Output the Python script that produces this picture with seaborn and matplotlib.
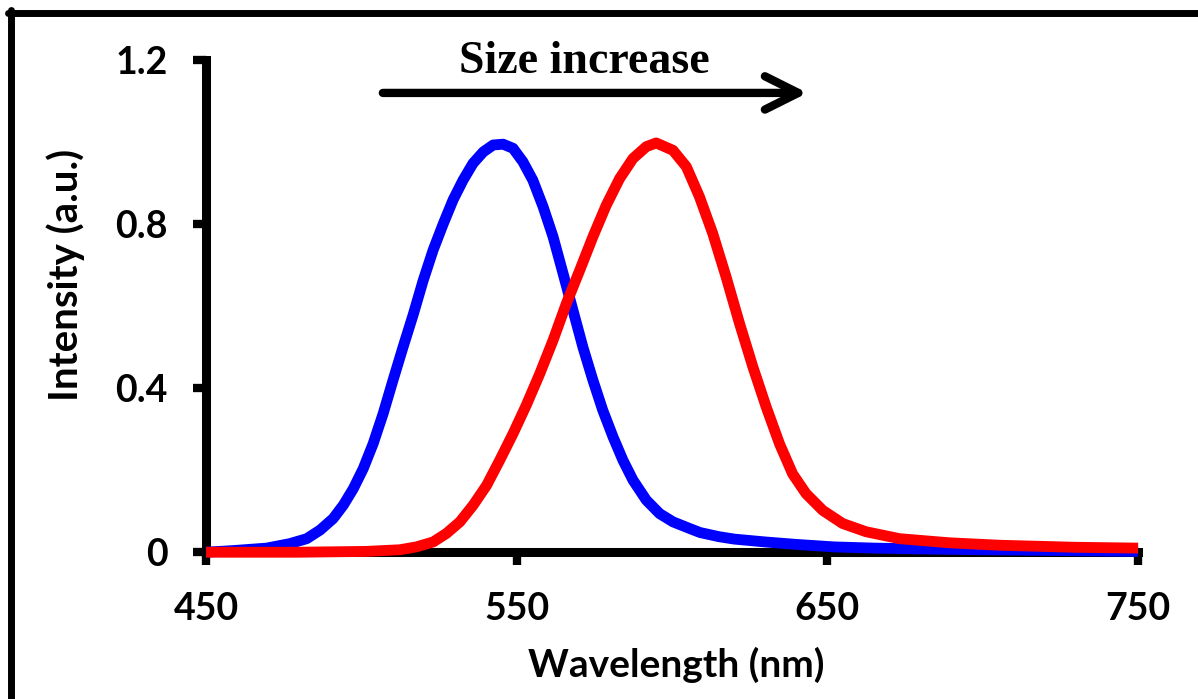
import matplotlib
matplotlib.use('Agg')
import matplotlib.pyplot as plt
from matplotlib.lines import Line2D
import seaborn as sns
import pandas as pd

# emission spectra
blue_nm = [450, 458.8, 469.5, 477, 482.4, 486.7, 490.9, 494.2, 497.4, 500.6, 503.8, 507.0,
           510.2, 513.4, 516.7, 519.9, 523.1, 526.3, 529.5, 532.7, 535.9, 539.2, 542.4,
           545.6, 548.8, 552.0, 555.2, 558.5, 561.7, 564.9, 568.1, 571.3, 574.5, 577.7,
           581.0, 584.2, 587.4, 591.7, 596.0, 600.3, 605.6, 609, 615, 620, 630, 640, 652,
           665, 680, 700, 725, 750]
blue_int = [0.0, 0.004, 0.01, 0.021, 0.033, 0.054, 0.082, 0.115, 0.155, 0.204, 0.265, 0.338,
            0.420, 0.50, 0.58, 0.663, 0.737, 0.80, 0.859, 0.907, 0.948, 0.976, 0.993,
            0.995, 0.985, 0.952, 0.907, 0.842, 0.769, 0.68, 0.59, 0.50, 0.42, 0.346,
            0.281, 0.224, 0.176, 0.127, 0.094, 0.074, 0.058, 0.048, 0.038, 0.032, 0.025,
            0.019, 0.013, 0.01, 0.008, 0.006, 0.004, 0.002]

red_nm = [450, 480, 501.7, 512.4, 517.7, 523.1, 527.4, 531.7, 536.0, 540.3, 544.5, 548.8,
          553.1, 557.4, 561.7, 566.0, 570.3, 574.5, 578.8, 583.1, 587.4, 591.7, 594.9,
          600.3, 604.6, 608.8, 613.1, 617.4, 621.7, 626.0, 630.3, 634.6, 638.8, 643.1,
          648.5, 654.9, 662.4, 673.2, 689.2, 705.3, 730, 750]
red_int = [0.0, 0.0, 0.002, 0.006, 0.013, 0.025, 0.046, 0.074, 0.115, 0.163, 0.224, 0.289,
           0.359, 0.435, 0.517, 0.607, 0.688, 0.769, 0.846, 0.911, 0.96, 0.989, 0.998,
           0.98, 0.94, 0.867, 0.777, 0.671, 0.558, 0.452, 0.354, 0.264, 0.191, 0.143,
           0.102, 0.070, 0.050, 0.033, 0.023, 0.017, 0.012, 0.01]

x_ticks = [450, 550, 650, 750]
y_ticks = [0, 0.4, 0.8, 1.2]
y_ticklabels = ['0', '0.4', '0.8', '1.2']

sns.set_style('white')
plt.rcParams['font.family'] = ['Lato', 'DejaVu Sans']
plt.rcParams['text.color'] = 'black'
plt.rcParams['axes.labelcolor'] = 'black'
plt.rcParams['xtick.color'] = 'black'
plt.rcParams['ytick.color'] = 'black'

fig = plt.figure(figsize=(11.98, 6.99), dpi=100)
ax = fig.add_axes([0.172, 0.210, 0.778, 0.704])

blue_df = pd.DataFrame({'nm': blue_nm, 'intensity': blue_int})
red_df = pd.DataFrame({'nm': red_nm, 'intensity': red_int})
sns.lineplot(data=blue_df, x='nm', y='intensity', color='#0000ff', lw=7.8, ax=ax,
             clip_on=False, zorder=5, solid_capstyle='butt', solid_joinstyle='round')
sns.lineplot(data=red_df, x='nm', y='intensity', color='#ff0000', lw=7.8, ax=ax,
             clip_on=False, zorder=6, solid_capstyle='butt', solid_joinstyle='round')

ax.set_xlim(450, 750)
ax.set_ylim(0, 1.2)
ax.set_xticks(x_ticks)
ax.set_yticks(y_ticks)
ax.set_yticklabels(y_ticklabels)

for s in ['top', 'right']:
    ax.spines[s].set_visible(False)
for s in ['left', 'bottom']:
    ax.spines[s].set_linewidth(6.5)
    ax.spines[s].set_color('black')

ax.tick_params(axis='both', direction='out', length=9.5, width=6, color='black',
               labelsize=27, left=True, bottom=True)
ax.tick_params(axis='x', pad=19)
ax.tick_params(axis='y', pad=18)
for lab in ax.get_xticklabels() + ax.get_yticklabels():
    lab.set_fontweight('bold')

ax.set_xlabel('Wavelength (nm)', fontsize=28, fontweight='bold')
ax.set_ylabel('Intensity (a.u.)', fontsize=29, fontweight='bold')
ax.xaxis.set_label_coords(0.504, -0.23)
ax.xaxis.label.set_va('center')
ax.yaxis.set_label_coords(-0.151, 0.563)
ax.yaxis.label.set_va('center')

# size-increase arrow and text
ax.annotate('', xy=(643.6, 1.12), xytext=(506.9, 1.12),
            arrowprops=dict(arrowstyle='->,head_length=2.4,head_width=1.2', lw=6,
                            color='black', shrinkA=0, shrinkB=0))
ax.text(571.9, 1.195, 'Size increase', family='Liberation Serif', fontweight='bold',
        fontsize=33, ha='center', va='center')

# frame around the figure (left and top only)
fig.add_artist(Line2D([10.5 / 1198, 10.5 / 1198], [0, 1 - 10 / 699], color='black', lw=5,
                      transform=fig.transFigure))
fig.add_artist(Line2D([8 / 1198, 1], [1 - 13 / 699, 1 - 13 / 699], color='black', lw=5,
                      transform=fig.transFigure))

fig.savefig('out.png', dpi=100)
